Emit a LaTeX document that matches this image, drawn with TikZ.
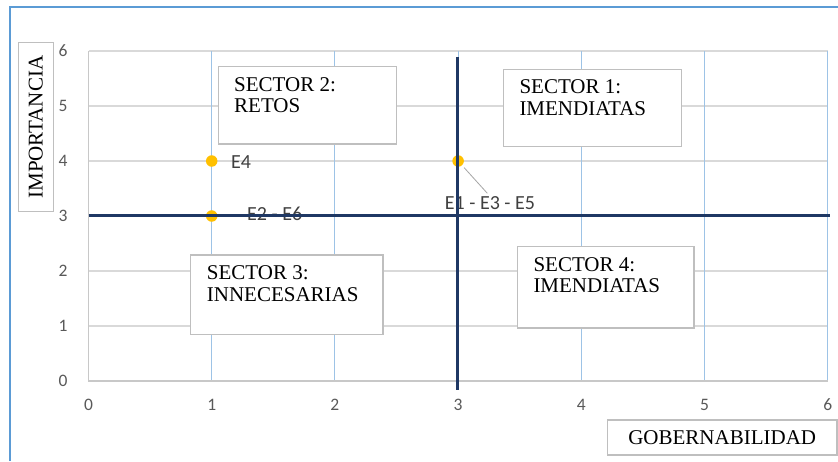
\documentclass[tikz,border=0pt]{standalone}
\usepackage{fontspec}
\setmainfont{Liberation Serif}
\newfontfamily\lblfont{Carlito}
\usetikzlibrary{calc}
\definecolor{frameblue}{RGB}{91,155,213}
\definecolor{gridgray}{RGB}{217,217,217}
\definecolor{axisgray}{RGB}{200,200,200}
\definecolor{gridblue}{RGB}{157,195,230}
\definecolor{navy}{RGB}{31,56,100}
\definecolor{ptcol}{RGB}{255,192,0}
\definecolor{boxgray}{RGB}{191,191,191}
\definecolor{ticktext}{RGB}{89,89,89}
\definecolor{lbltext}{RGB}{64,64,64}
\definecolor{leadergray}{RGB}{166,166,166}
\tikzset{
  gridh/.style={gridgray, line width=1.2pt},
  gridv/.style={gridblue, line width=1.1pt},
  axisline/.style={axisgray, line width=1.2pt},
  tick/.style={font=\lblfont\fontsize{17.5}{19}\selectfont, text=ticktext, inner sep=0pt},
  dlabel/.style={font=\lblfont\fontsize{20}{22}\selectfont, text=lbltext, inner sep=0pt},
  pt/.style={circle, fill=ptcol, minimum size=11.5pt, inner sep=0pt},
  leader/.style={leadergray, line width=0.8pt},
  quadline/.style={navy, line width=3pt},
  sectorbox/.style={draw=boxgray, line width=1.2pt, fill=white, inner sep=0pt, anchor=north west},
  sectortext/.style={font=\fontsize{21}{21.5}\selectfont, align=left, inner sep=0pt, anchor=north west},
  titlebox/.style={draw=boxgray, line width=1.2pt, fill=white, inner sep=0pt, font=\fontsize{21}{22}\selectfont},
}
\begin{document}
\begin{tikzpicture}[x=1pt,y=-1pt]
\useasboundingbox (0,0) rectangle (838,461);
\fill[white] (0,0) rectangle (838,461);
% outer chart frame
\draw[frameblue, line width=1.5pt] (10,461) -- (10,7) -- (838,7);
% grid
\foreach \y in {51,106,161,216,271,326}
  \draw[gridh] (88.5,\y) -- (827.7,\y);
\foreach \x in {211.7,334.9,458.1,581.3,704.5,827.7}
  \draw[gridv] (\x,51) -- (\x,381);
\draw[axisline] (88.5,51) -- (88.5,381) -- (827.7,381);
% tick labels
\foreach \v in {0,...,6} {
  \node[tick] (yt\v) at (63,{381-55*\v}) {\v};
  \node[tick] (xt\v) at ({88.5+123.2*\v},405) {\v};
}
% data points
\node[pt] (p4) at (211.7,161) {};
\node[pt] (p26) at (211.7,216) {};
\node[pt] (p135) at (458.1,161) {};
\node[dlabel, anchor=west] (l4) at (231,162) {E4};
\node[dlabel, anchor=west] (l26) at (247,214) {E2 - E6};
\node[dlabel] (l135) at (490,203) {E1 - E3 - E5};
\draw[leader, shorten <=3pt, shorten >=4pt] (p135) -- (l135.north);
% quadrant lines
\coordinate (hl) at (88.5,215);
\coordinate (hr) at (830,215);
\coordinate (vt) at (457.5,57);
\coordinate (vb) at (457.5,390);
\draw[quadline] (hl) -- (hr);
\draw[quadline] (vt) -- (vb);
% sector boxes
\node[sectorbox, minimum width=178.3pt, minimum height=77.6pt] (s2) at (217.7,65.7) {};
\node[sectortext] (s2t) at ($(s2.north west)+(16.3,11.3)$) {SECTOR 2:\\RETOS};
\node[sectorbox, minimum width=178.3pt, minimum height=77pt] (s1) at (502.7,69) {};
\node[sectortext] (s1t) at ($(s1.north west)+(16.6,10.6)$) {SECTOR 1:\\IMENDIATAS};
\node[sectorbox, minimum width=192.3pt, minimum height=79.4pt] (s3) at (190,254.3) {};
\node[sectortext] (s3t) at ($(s3.north west)+(16.7,11.3)$) {SECTOR 3:\\INNECESARIAS};
\node[sectorbox, minimum width=176.6pt, minimum height=81.3pt] (s4) at (516.7,246) {};
\node[sectortext] (s4t) at ($(s4.north west)+(16.6,11.3)$) {SECTOR 4:\\IMENDIATAS};
% axis titles
\node[titlebox, minimum width=229.7pt, minimum height=35pt] (xtitle) at (722.2,437.5) {GOBERNABILIDAD};
\node[titlebox, rotate=90, minimum width=169pt, minimum height=35pt] (ytitle) at (35.8,127.2) {IMPORTANCIA};
\end{tikzpicture}
\end{document}
